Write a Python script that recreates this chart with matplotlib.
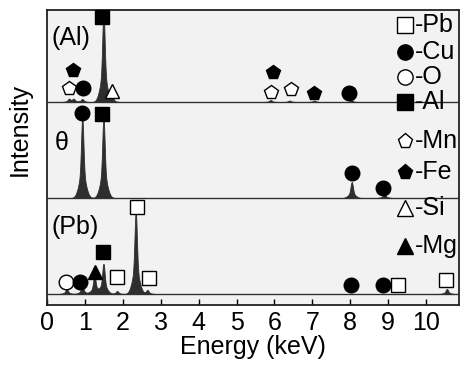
import numpy as np
import matplotlib
matplotlib.use("Agg")
import matplotlib.pyplot as plt

plt.rcParams['font.family'] = ['Liberation Sans', 'DejaVu Sans']

# ---------------- data ----------------
energy_ticks = [0, 1, 2, 3, 4, 5, 6, 7, 8, 9, 10]
panel_labels = ["(Al)", "θ", "(Pb)"]

# spectrum peaks: energies (keV) and heights (arb.)
al_peak_e = [0.58, 0.70, 0.93, 1.49, 1.74, 5.90, 6.40, 7.05, 8.04]
al_peak_h = [3, 3, 3, 90, 3, 2, 1.5, 1.5, 1.5]
th_peak_e = [0.93, 1.49, 8.04, 8.90]
th_peak_h = [80, 80, 16, 4]
pb_peak_e = [0.52, 0.93, 1.25, 1.49, 1.85, 2.34, 2.65, 10.55]
pb_peak_h = [5, 8, 18, 30, 3, 82, 4, 5]

# element markers: element, energy, marker height above baseline
al_mark_el = ["Fe", "Mn", "Cu", "Al", "Si", "Fe", "Mn", "Mn", "Fe", "Cu"]
al_mark_e = [0.69, 0.58, 0.95, 1.45, 1.71, 5.96, 5.91, 6.44, 7.04, 7.97]
al_mark_h = [32, 14, 14, 85, 11, 30, 10, 13, 9, 9]
th_mark_el = ["Cu", "Al", "Cu", "Cu"]
th_mark_e = [0.92, 1.45, 8.05, 8.87]
th_mark_h = [85, 84, 25, 10]
pb_mark_el = ["O", "Cu", "Mg", "Al", "Pb", "Pb", "Pb", "Cu", "Cu", "Pb", "Pb"]
pb_mark_e = [0.50, 0.87, 1.27, 1.47, 1.85, 2.37, 2.69, 8.02, 8.87, 9.26, 10.53]
pb_mark_h = [12, 12, 22, 42, 17, 87, 16, 9, 9, 9, 14]

legend_els = ["Pb", "Cu", "O", "Al", "Mn", "Fe", "Si", "Mg"]

# marker styles per element
styles = {
    "Pb": dict(marker="s", mfc="white"),
    "Cu": dict(marker="o", mfc="black"),
    "O": dict(marker="o", mfc="white"),
    "Al": dict(marker="s", mfc="black"),
    "Mn": dict(marker="p", mfc="white"),
    "Fe": dict(marker="p", mfc="black"),
    "Si": dict(marker="^", mfc="white"),
    "Mg": dict(marker="^", mfc="black"),
}

offsets = [192, 96, 0]

fig = plt.figure(figsize=(4.62, 3.67), dpi=100, facecolor="white")
ax = fig.add_axes([47 / 462, 1 - 305 / 367, 412 / 462, 295 / 367])
ax.set_facecolor("#f2f2f2")
ax.set_xlim(0, 10.87)
ax.set_ylim(-11, 284)

x = np.linspace(0, 10.87, 3000)


def spectrum(es, hs):
    y = np.zeros_like(x)
    for e, h in zip(es, hs):
        y += h * (0.7 * np.exp(-0.5 * ((x - e) / 0.03) ** 2)
                  + 0.3 * np.exp(-0.5 * ((x - e) / 0.09) ** 2))
    return y


spectra = [(al_peak_e, al_peak_h), (th_peak_e, th_peak_h), (pb_peak_e, pb_peak_h)]
marks = [(al_mark_el, al_mark_e, al_mark_h), (th_mark_el, th_mark_e, th_mark_h),
         (pb_mark_el, pb_mark_e, pb_mark_h)]

for off, (pe, ph), (mel, me, mh) in zip(offsets, spectra, marks):
    y = spectrum(pe, ph)
    ax.axhline(off, color="#444444", lw=1.0, zorder=2)
    ax.fill_between(x, off, off + y, color="#2e2e2e", lw=0.6, zorder=3)
    for el, e, h in zip(mel, me, mh):
        st = styles[el]
        ax.plot(e, off + h, ls="none", marker=st["marker"], mfc=st["mfc"],
                mec="black", mew=1.0, ms=10.5, zorder=5, clip_on=False)

# panel labels
label_pos = [(0.01, 0.905), (0.02, 0.55), (0.01, 0.265)]
for t, (lx, ly) in zip(panel_labels, label_pos):
    ax.text(lx, ly, t, transform=ax.transAxes, fontsize=18, ha="left", va="center")

# legend (manual)
leg_y = [25, 52, 77, 102, 141, 172, 208, 246]
for el, py in zip(legend_els, leg_y):
    yy = 1 - (py - 10) / 295
    st = styles[el]
    ax.plot(0.868, yy, transform=ax.transAxes, ls="none", marker=st["marker"],
            mfc=st["mfc"], mec="black", mew=1.0, ms=11, zorder=6, clip_on=False)
    ax.text(0.893, yy, "-" + el, transform=ax.transAxes, fontsize=18,
            ha="left", va="center", zorder=6)

ax.set_xticks(energy_ticks)
ax.set_xticklabels([str(t) for t in energy_ticks])
ax.tick_params(axis="x", direction="in", length=4, width=1, labelsize=18, pad=4)
ax.set_yticks([])
for s in ax.spines.values():
    s.set_linewidth(1.3)
    s.set_color("#222222")

ax.set_xlabel("Energy (keV)", fontsize=18, labelpad=0)
fig.text(20 / 462, 1 - 130 / 367, "Intensity", rotation=90, fontsize=18,
         ha="center", va="center")

fig.savefig("out.png", dpi=100, facecolor="white")
